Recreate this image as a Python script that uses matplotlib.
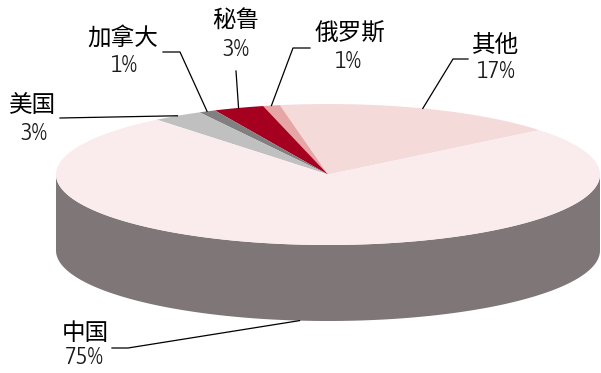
import numpy as np
import matplotlib
matplotlib.use('Agg')
import matplotlib.pyplot as plt
from matplotlib.patches import Polygon
from matplotlib import font_manager

# slices, counter-clockwise from the start angle
labels = ['其他', '俄罗斯', '秘鲁', '加拿大', '美国', '中国']
shares = [17, 1, 3, 1, 3, 75]
top_colors = ['#f5dada', '#e6a6a6', '#a5001f', '#808080', '#c0c0c0', '#faecec']
side_colors = ['#b8a3a3', '#a37777', '#6a0014', '#5a5a5a', '#8a8a8a', '#7f7777']
start_angle = 39

# label placement (pixels): name centre, percent centre, leader line start/elbow
label_pos = {
    '其他':  ((496, 45), (496, 72), [(468, 59), (453, 59)]),
    '俄罗斯': ((350, 34), (348, 62), [(310, 48), (293, 48)]),
    '秘鲁':  ((236, 20), (236, 50), [(236, 71)]),
    '加拿大': ((123, 38), (124, 66), [(163, 52), (180, 52)]),
    '美国':  ((33, 105), (34, 134), [(60, 118)]),
    '中国':  ((85, 333), (84, 358), [(112, 348), (128, 348)]),
}

# pie geometry in pixels
cx, cy = 328, 174.5
rx, ry = 272, 70.5
depth = 76


def pick_narrow():
    # a light condensed sans for the percentages, if one is installed
    cands = []
    for f in font_manager.fontManager.ttflist:
        narrow = ('Narrow' in f.name or 'Condensed' in f.name or 'Condensed' in f.fname
                  or f.stretch in ('condensed', 'semi-condensed'))
        if narrow and f.style == 'normal' and 'Oblique' not in f.fname \
                and 'Italic' not in f.fname:
            w = f.weight if isinstance(f.weight, int) else 400
            cands.append(('DejaVu' in f.name, abs(w - 330), f.fname))
    if cands:
        cands.sort()
        return font_manager.FontProperties(fname=cands[0][2])
    return font_manager.FontProperties(family='Liberation Sans')


pct_font = pick_narrow()
pct_font.set_size(18)
name_font = font_manager.FontProperties(family=['Noto Sans CJK SC', 'DejaVu Sans'], size=17)


def rim(t_deg, drop=0):
    t = np.radians(t_deg)
    return np.column_stack([cx + rx * np.cos(t), cy - ry * np.sin(t) + drop])


fig = plt.figure(figsize=(6.01, 3.73), dpi=100)
ax = fig.add_axes([0, 0, 1, 1])
ax.set_xlim(0, 601)
ax.set_ylim(373, 0)
ax.axis('off')

bounds = start_angle + 360 * np.concatenate([[0], np.cumsum(shares)]) / sum(shares)

# side walls (only the front half is visible)
for i in range(len(shares)):
    a0, a1 = bounds[i], bounds[i + 1]
    for off in (0, 360):
        lo, hi = max(a0, 180 + off), min(a1, 360 + off)
        if hi > lo:
            t = np.linspace(lo, hi, 200)
            pts = np.vstack([rim(t), rim(t[::-1], depth)])
            ax.add_patch(Polygon(pts, closed=True, facecolor=side_colors[i],
                                 edgecolor='none'))

# top faces
for i in range(len(shares)):
    t = np.linspace(bounds[i], bounds[i + 1], 300)
    pts = np.vstack([[cx, cy], rim(t)])
    ax.add_patch(Polygon(pts, closed=True, facecolor=top_colors[i],
                         edgecolor='none', antialiased=True))

# labels and leader lines
for i, name in enumerate(labels):
    name_xy, pct_xy, path = label_pos[name]
    ax.text(*name_xy, name, ha='center', va='center', fontproperties=name_font,
            color='#000000')
    ax.text(*pct_xy, f'{shares[i]}%', ha='center', va='center', fontproperties=pct_font,
            color='#1a1a1a')
    mid = (bounds[i] + bounds[i + 1]) / 2
    drop = depth if np.sin(np.radians(mid)) < 0 else 0
    end = rim([mid], drop)[0]
    xs = [p[0] for p in path] + [end[0]]
    ys = [p[1] for p in path] + [end[1]]
    ax.plot(xs, ys, color='#000000', lw=0.9)

fig.savefig('out.png', dpi=100)
